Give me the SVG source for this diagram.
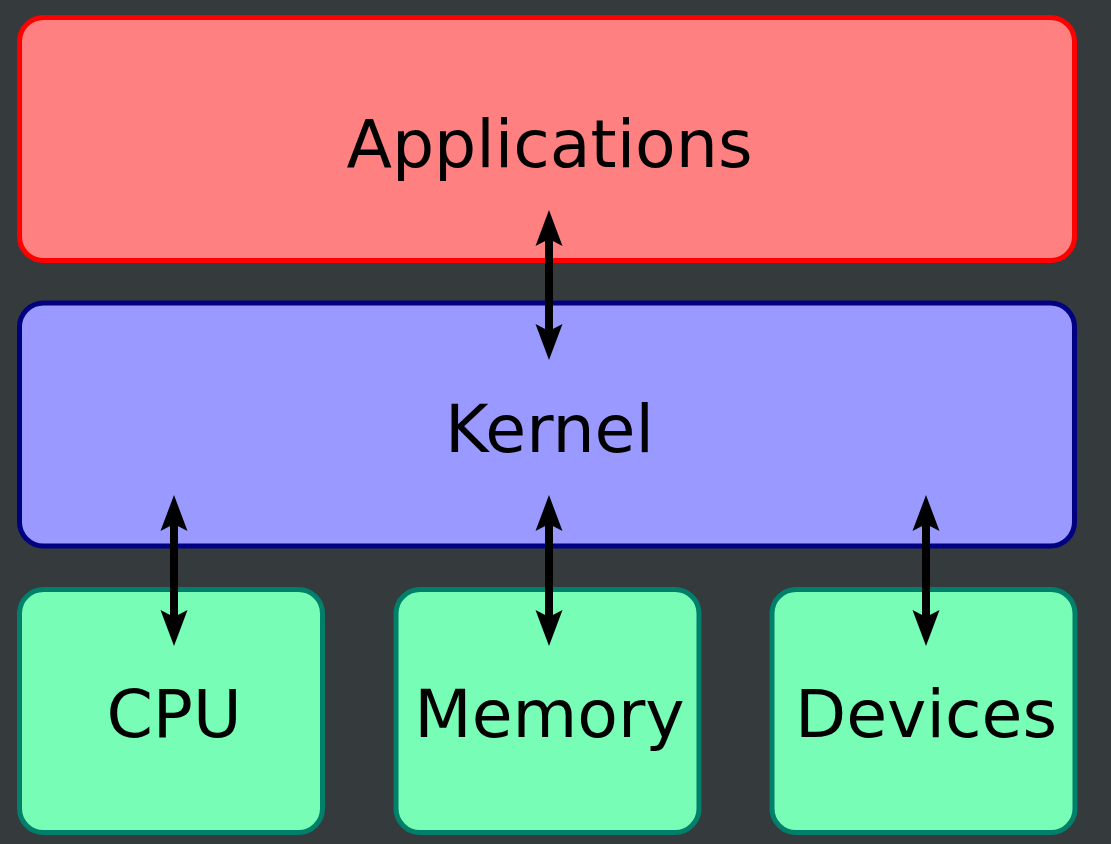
<svg xmlns="http://www.w3.org/2000/svg" width="1111" height="844" viewBox="0 0 1111 844">
<defs>
<style>
.lbl{font-family:"DejaVu Sans",sans-serif;font-size:66.5px;fill:#000;text-anchor:middle}
.app{fill:#ff8080;stroke:#ff0000;stroke-width:5}
.ker{fill:#9999ff;stroke:#000080;stroke-width:5}
.hw{fill:#77fdb5;stroke:#00806a;stroke-width:5}
.con{stroke:#000;stroke-width:8;fill:none}
.hd{fill:#000}
</style>
<path id="head" d="M0,0 L13.5,36 L0,29 L-13.5,36 Z"/>
</defs>
<rect width="1111" height="844" fill="#353a3d"/>
<g id="applications"><rect class="app" x="19.5" y="17.5" width="1055" height="243" rx="24"/><text class="lbl" x="549.5" y="167">Applications</text></g>
<g id="kernel"><rect class="ker" x="19.5" y="303" width="1055" height="243" rx="24"/><text class="lbl" x="549.5" y="452">Kernel</text></g>
<g id="cpu"><rect class="hw" x="19.5" y="589.5" width="303" height="243" rx="24"/><text class="lbl" x="174" y="737">CPU</text></g>
<g id="memory"><rect class="hw" x="396" y="589.5" width="303" height="243" rx="24"/><text class="lbl" x="549.5" y="737">Memory</text></g>
<g id="devices"><rect class="hw" x="772" y="589.5" width="303" height="243" rx="24"/><text class="lbl" x="926" y="737">Devices</text></g>
<g id="connectors">
<line class="con" x1="549" y1="236" x2="549" y2="334"/>
<use class="hd" href="#head" transform="translate(549,210)"/>
<use class="hd" href="#head" transform="translate(549,360) rotate(180)"/>
<line class="con" x1="174" y1="521" x2="174" y2="620"/>
<use class="hd" href="#head" transform="translate(174,495)"/>
<use class="hd" href="#head" transform="translate(174,646) rotate(180)"/>
<line class="con" x1="549" y1="521" x2="549" y2="620"/>
<use class="hd" href="#head" transform="translate(549,495)"/>
<use class="hd" href="#head" transform="translate(549,646) rotate(180)"/>
<line class="con" x1="926" y1="521" x2="926" y2="620"/>
<use class="hd" href="#head" transform="translate(926,495)"/>
<use class="hd" href="#head" transform="translate(926,646) rotate(180)"/>
</g>
</svg>
